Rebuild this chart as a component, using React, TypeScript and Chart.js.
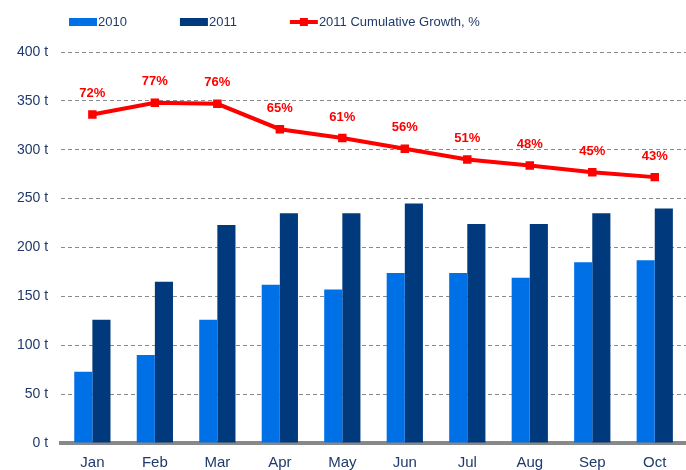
import React, { useEffect, useRef } from "react";
import { Chart, registerables } from "chart.js";

Chart.register(...registerables);

const categories = ["Jan", "Feb", "Mar", "Apr", "May", "Jun", "Jul", "Aug", "Sep", "Oct"];
const values2010 = [73, 90, 126, 162, 157, 174, 174, 169, 185, 187];
const values2011 = [126, 165, 223, 235, 235, 245, 224, 224, 235, 240];
const cumulativeLine = [336, 348, 347, 321, 312, 301, 290, 284, 277, 272];
const growthLabels = ["72%", "77%", "76%", "65%", "61%", "56%", "51%", "48%", "45%", "43%"];
const yTicks = [0, 50, 100, 150, 200, 250, 300, 350, 400];

const C2010 = "#0070E6";
const C2011 = "#003A7C";
const CRED = "#FF0000";
const TEXT = "#1F3A6B";
const FONT = "'Liberation Sans', Arial, sans-serif";

const labelPlugin = {
  id: "growthLabels",
  afterDatasetsDraw(chart: any) {
    const meta = chart.getDatasetMeta(2);
    const ctx = chart.ctx;
    ctx.save();
    ctx.fillStyle = CRED;
    ctx.font = `bold 13px ${FONT}`;
    ctx.textAlign = "center";
    ctx.textBaseline = "middle";
    meta.data.forEach((pt: any, i: number) => {
      ctx.fillText(growthLabels[i], pt.x, pt.y - 21);
    });
    ctx.restore();
  },
};

const legendPlugin = {
  id: "customLegend",
  afterDraw(chart: any) {
    const ctx = chart.ctx;
    const ds = chart.data.datasets;
    ctx.save();
    ctx.font = `13px ${FONT}`;
    ctx.textBaseline = "middle";
    ctx.textAlign = "left";
    let x = 69;
    const y = 22;
    ds.forEach((d: any) => {
      const iconW = 28;
      if (d.type === "line") {
        ctx.strokeStyle = d.borderColor;
        ctx.lineWidth = 4;
        ctx.beginPath();
        ctx.moveTo(x, y);
        ctx.lineTo(x + iconW, y);
        ctx.stroke();
        ctx.fillStyle = d.borderColor;
        ctx.fillRect(x + iconW / 2 - 4, y - 4, 8, 8);
      } else {
        ctx.fillStyle = d.backgroundColor;
        ctx.fillRect(x, y - 4, iconW, 8);
      }
      ctx.fillStyle = TEXT;
      ctx.fillText(d.label, x + iconW + 1, y);
      x += iconW + 1 + ctx.measureText(d.label).width + 53;
    });
    ctx.restore();
  },
};

export default function App() {
  const ref = useRef<HTMLCanvasElement>(null);
  useEffect(() => {
    document.body.style.margin = "0";
    const chart = new Chart(ref.current!, {
      type: "bar",
      data: {
        labels: categories,
        datasets: [
          {
            label: "2010",
            data: values2010,
            backgroundColor: C2010,
            categoryPercentage: 0.58,
            barPercentage: 1,
            order: 2,
          },
          {
            label: "2011",
            data: values2011,
            backgroundColor: C2011,
            categoryPercentage: 0.58,
            barPercentage: 1,
            order: 2,
          },
          {
            type: "line",
            label: "2011 Cumulative Growth, %",
            data: cumulativeLine,
            borderColor: CRED,
            backgroundColor: CRED,
            borderWidth: 4,
            pointStyle: "rect",
            pointRadius: 6,
            pointBorderWidth: 0,
            pointBackgroundColor: CRED,
            order: 1,
          } as any,
        ],
      },
      options: {
        responsive: false,
        animation: false,
        layout: { autoPadding: false, padding: { left: 4, right: 0, top: 52, bottom: -13 } },
        plugins: {
          legend: { display: false },
          tooltip: { enabled: false },
        },
        scales: {
          x: {
            grid: { display: false, drawTicks: false },
            border: { display: true, color: "#888888", width: 4 },
            ticks: {
              color: TEXT,
              font: { family: FONT, size: 15 },
              padding: 11,
            },
          },
          y: {
            min: 0,
            max: 400,
            afterBuildTicks: (axis: any) => {
              axis.ticks = yTicks.map((v) => ({ value: v }));
            },
            grid: {
              color: "#8a8a8a",
              lineWidth: 1,
              drawTicks: false,
            },
            border: { display: false, dash: [4, 3] },
            ticks: {
              color: TEXT,
              font: { family: FONT, size: 14 },
              padding: 13,
              callback: (v: any) => `${v} t`,
            },
          },
        },
      },
      plugins: [labelPlugin, legendPlugin],
    });
    return () => chart.destroy();
  }, []);
  return <canvas ref={ref} width={686} height={470} style={{ display: "block" }} />;
}
